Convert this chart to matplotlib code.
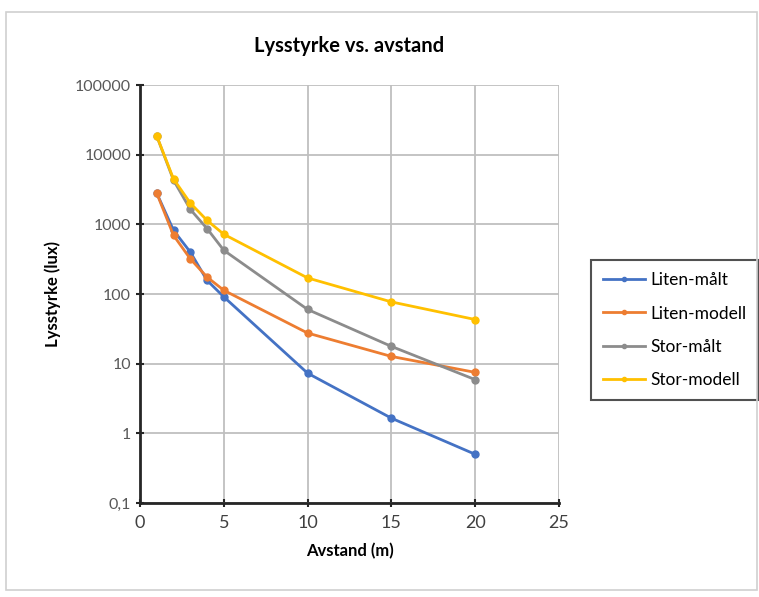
import numpy as np
import matplotlib.pyplot as plt
from matplotlib.patches import Rectangle

plt.rcParams['font.family'] = ['Lato', 'DejaVu Sans']

# avstand i meter
avstand = [1, 2, 3, 4, 5, 10, 15, 20]

# lysstyrke i lux, lest av grafen
liten_malt = [2800, 820, 400, 157, 91, 7.3, 1.65, 0.5]
liten_modell = [2800, 695, 320, 175, 113, 27.5, 12.7, 7.5]
stor_malt = [18500, 4300, 1640, 870, 424, 60, 17.7, 5.9]
stor_modell = [18500, 4480, 2020, 1140, 720, 170, 77, 43]

serier = [
    ('Liten-målt', liten_malt, '#4472C4'),
    ('Liten-modell', liten_modell, '#ED7D31'),
    ('Stor-målt', stor_malt, '#8c8c8c'),
    ('Stor-modell', stor_modell, '#FFC000'),
]
y_ticks = [0.1, 1, 10, 100, 1000, 10000, 100000]
y_labels = ['0,1', '1', '10', '100', '1000', '10000', '100000']

fig = plt.figure(figsize=(7.59, 5.97), dpi=100)
# ramme rundt diagrammet
fig.patches.append(Rectangle((6 / 759, 7 / 597), 751 / 759, 578 / 597,
                             transform=fig.transFigure, fill=False,
                             edgecolor='#d0d0d0', linewidth=1.2))

ax = fig.add_axes([140 / 759, 94 / 597, 419 / 759, 418 / 597])

for navn, verdier, farge in serier:
    ax.plot(avstand, verdier, color=farge, lw=2, marker='o', ms=5, label=navn)

ax.set_yscale('log')
ax.set_xlim(0, 25)
ax.set_ylim(0.1, 100000)
ax.set_yticks(y_ticks)
ax.set_yticklabels(y_labels)
ax.minorticks_off()
ax.set_xticks(range(0, 26, 5))

ax.grid(True, color='#bfbfbf', lw=1.3)
ax.set_axisbelow(True)
for s in ['top', 'right']:
    ax.spines[s].set_visible(False)
for s in ['left', 'bottom']:
    ax.spines[s].set_color('#262626')
    ax.spines[s].set_linewidth(2)
ax.tick_params(direction='inout', length=6, width=1.5, color='#262626',
               labelsize=11.5, labelcolor='#595959')
ax.tick_params(axis='x', labelsize=13, labelcolor='#404040', pad=6)

ax.set_title('Lysstyrke vs. avstand', fontsize=14.5, fontweight='bold', pad=24)
ax.set_xlabel('Avstand (m)', fontsize=12, fontweight='bold', labelpad=8)
ax.set_ylabel('Lysstyrke (lux)', fontsize=12, fontweight='bold', labelpad=10)

leg = ax.legend(loc='upper left', bbox_to_anchor=(591 / 759, 1 - 260 / 597),
                bbox_transform=fig.transFigure, fontsize=12.5, markerscale=0.6,
                frameon=True, fancybox=False, edgecolor='#262626',
                borderpad=0.7, labelspacing=1.0, handlelength=2.4,
                handletextpad=0.3, borderaxespad=0)
leg.get_frame().set_linewidth(1.5)

plt.savefig('out.png', dpi=100)
